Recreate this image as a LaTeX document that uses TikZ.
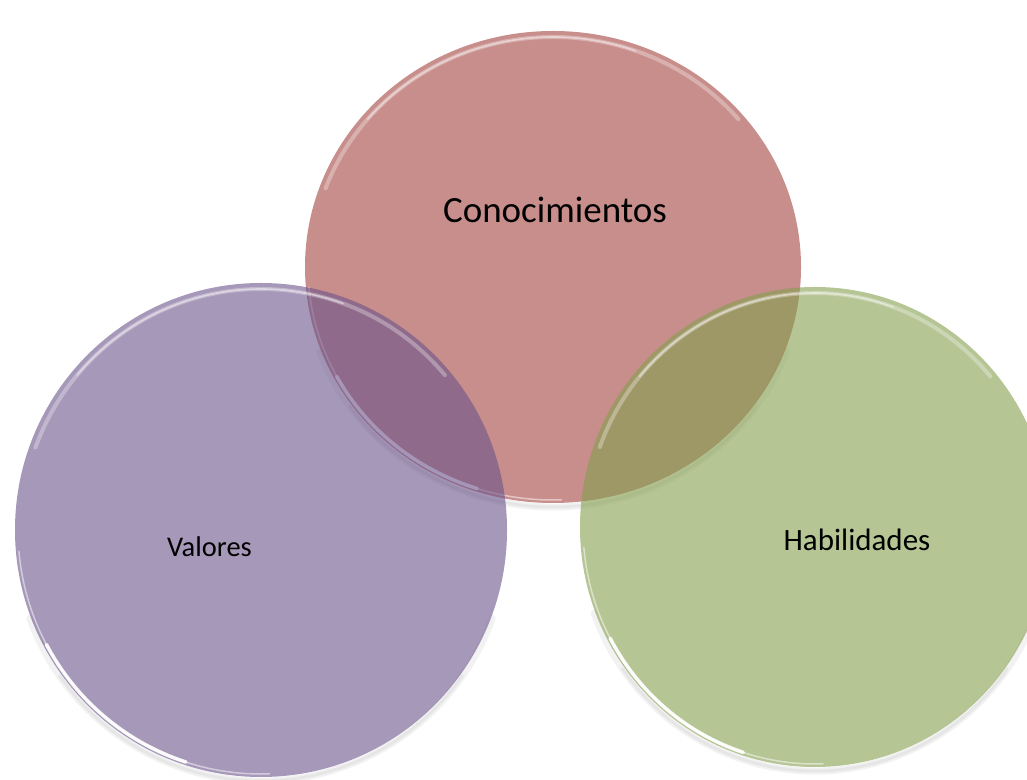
\documentclass[tikz,border=0pt]{standalone}
\usepackage{fontspec}
\setmainfont{Carlito}
\usetikzlibrary{calc,shapes.geometric}

\definecolor{knowred}{RGB}{163,67,63}
\definecolor{valpurple}{RGB}{107,83,138}
\definecolor{skillgreen}{RGB}{132,158,77}

\tikzset{
  bubble/.style={ellipse, inner sep=0pt, draw=none, fill=#1, fill opacity=0.6},
  lbl/.style={text=black, inner sep=0pt, anchor=base},
}

% soft shadow under the lower rim of a circle
\newcommand\rimshadow[4]{%
  \begin{scope}[shift={(#1,#2-4)}, line cap=round]
    \draw[black, opacity=0.05, line width=7pt]
      (200:#3pt and #4pt) arc[start angle=200, end angle=340, x radius=#3pt, y radius=#4pt];
    \draw[black, opacity=0.05, line width=3pt]
      (215:#3pt and #4pt) arc[start angle=215, end angle=325, x radius=#3pt, y radius=#4pt];
  \end{scope}}

% glossy rim: soft light band at the top, bright crescent at the lower left
\newcommand\rimeffects[3]{%
  \begin{scope}[shift={(#1.center)}, line cap=round]
    \pgfmathsetmacro\rxin{#2-6}\pgfmathsetmacro\ryin{#3-6}
    \draw[white, opacity=0.3, line width=4pt]
      (40:\rxin pt and \ryin pt) arc[start angle=40, end angle=160, x radius=\rxin pt, y radius=\ryin pt];
    \draw[white, opacity=0.45, line width=1.6pt]
      (70:\rxin pt and \ryin pt) arc[start angle=70, end angle=140, x radius=\rxin pt, y radius=\ryin pt];
    \pgfmathsetmacro\rxe{#2-3}\pgfmathsetmacro\rye{#3-3}
    \draw[white, opacity=0.5, line width=1.5pt]
      (185:\rxe pt and \rye pt) arc[start angle=185, end angle=272, x radius=\rxe pt, y radius=\rye pt];
    \draw[white, opacity=0.95, line width=3.5pt]
      (208:\rxe pt and \rye pt) arc[start angle=208, end angle=252, x radius=\rxe pt, y radius=\rye pt];
  \end{scope}}

\begin{document}
\begin{tikzpicture}[x=1pt, y=1pt]
  \useasboundingbox (0,0) rectangle (1027,779);

  % shadows beneath the three circles
  \rimshadow{553}{512}{248}{236}
  \rimshadow{261}{249}{246}{247}
  \rimshadow{815}{252}{235}{240}

  % the three overlapping circles
  \node[bubble=knowred, minimum width=496pt, minimum height=472pt] (know) at (553,512) {};
  \rimeffects{know}{248}{236}
  \node[bubble=valpurple, minimum width=492pt, minimum height=494pt] (val) at (261,249) {};
  \rimeffects{val}{246}{247}
  \node[bubble=skillgreen, minimum width=470pt, minimum height=480pt] (skill) at (815,252) {};
  \rimeffects{skill}{235}{240}

  % labels
  \node[lbl, font=\fontsize{37}{40}\selectfont] (know-label) at (555,556) {Conocimientos};
  \node[lbl, font=\fontsize{28.5}{32}\selectfont] (val-label) at (209.5,222) {Valores};
  \node[lbl, font=\fontsize{31}{35}\selectfont] (skill-label) at (857,228) {Habilidades};
\end{tikzpicture}
\end{document}
